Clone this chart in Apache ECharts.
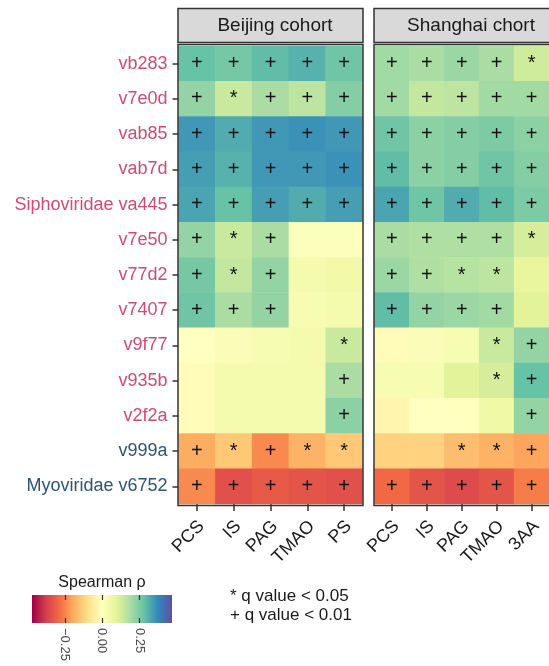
<!DOCTYPE html>
<html>
<head>
<meta charset="utf-8">
<script src="https://cdn.jsdelivr.net/npm/echarts@6/dist/echarts.min.js"></script>
<style>
  html, body { margin: 0; padding: 0; background: #ffffff; }
  #chart { width: 549px; height: 666px; }
</style>
</head>
<body>
<div id="chart"></div>
<script>
// Viral contigs (rows) and metabolites (columns) for each cohort
const viruses = ['vb283', 'v7e0d', 'vab85', 'vab7d', 'Siphoviridae va445', 'v7e50', 'v77d2',
  'v7407', 'v9f77', 'v935b', 'v2f2a', 'v999a', 'Myoviridae v6752'];
// 'up' = positively associated group, 'down' = negatively associated group
const virusGroup = ['up', 'up', 'up', 'up', 'up', 'up', 'up', 'up', 'up', 'up', 'up', 'down', 'down'];
const metabolitesBeijing = ['PCS', 'IS', 'PAG', 'TMAO', 'PS'];
const metabolitesShanghai = ['PCS', 'IS', 'PAG', 'TMAO', '3AA'];

// Spearman rho, one row per virus
const rhoBeijing = [
  [0.28, 0.26, 0.29, 0.31, 0.27],
  [0.22, 0.14, 0.19, 0.16, 0.24],
  [0.35, 0.32, 0.35, 0.36, 0.35],
  [0.34, 0.31, 0.35, 0.35, 0.36],
  [0.33, 0.28, 0.34, 0.32, 0.34],
  [0.22, 0.14, 0.19, 0.01, 0.01],
  [0.26, 0.15, 0.22, 0.04, 0.05],
  [0.27, 0.19, 0.22, 0.03, 0.04],
  [0.00, 0.02, 0.03, 0.04, 0.14],
  [-0.01, 0.04, 0.04, 0.04, 0.19],
  [-0.01, 0.04, 0.04, 0.04, 0.23],
  [-0.19, -0.14, -0.24, -0.18, -0.14],
  [-0.24, -0.34, -0.32, -0.33, -0.34]
];
const rhoShanghai = [
  [0.20, 0.19, 0.21, 0.19, 0.13],
  [0.20, 0.15, 0.16, 0.20, 0.20],
  [0.27, 0.23, 0.24, 0.25, 0.23],
  [0.29, 0.23, 0.24, 0.27, 0.24],
  [0.33, 0.27, 0.32, 0.29, 0.25],
  [0.19, 0.18, 0.18, 0.18, 0.12],
  [0.21, 0.18, 0.17, 0.16, 0.08],
  [0.29, 0.22, 0.21, 0.20, 0.10],
  [-0.01, 0.02, 0.03, 0.14, 0.22],
  [0.03, 0.03, 0.10, 0.12, 0.28],
  [-0.03, 0.00, 0.00, 0.06, 0.22],
  [-0.12, -0.12, -0.16, -0.18, -0.20],
  [-0.29, -0.33, -0.35, -0.33, -0.26]
];

// Significance marks: '*' q < 0.05, '+' q < 0.01
const sigBeijing = [
  ['+', '+', '+', '+', '+'],
  ['+', '*', '+', '+', '+'],
  ['+', '+', '+', '+', '+'],
  ['+', '+', '+', '+', '+'],
  ['+', '+', '+', '+', '+'],
  ['+', '*', '+', '', ''],
  ['+', '*', '+', '', ''],
  ['+', '+', '+', '', ''],
  ['', '', '', '', '*'],
  ['', '', '', '', '+'],
  ['', '', '', '', '+'],
  ['+', '*', '+', '*', '*'],
  ['+', '+', '+', '+', '+']
];
const sigShanghai = [
  ['+', '+', '+', '+', '*'],
  ['+', '+', '+', '+', '+'],
  ['+', '+', '+', '+', '+'],
  ['+', '+', '+', '+', '+'],
  ['+', '+', '+', '+', '+'],
  ['+', '+', '+', '+', '*'],
  ['+', '+', '*', '*', ''],
  ['+', '+', '+', '+', ''],
  ['', '', '', '*', '+'],
  ['', '', '', '*', '+'],
  ['', '', '', '', '+'],
  ['', '', '*', '*', '+'],
  ['+', '+', '+', '+', '+']
];

// Colour scale
const rhoLimits = [-0.47, 0.47];
const colorbarTicks = [-0.25, 0, 0.25];
const spectral = ['#9E0142', '#D53E4F', '#F46D43', '#FDAE61', '#FEE08B', '#FFFFBF',
  '#E6F598', '#ABDDA4', '#66C2A5', '#3288BD', '#5E4FA2'];

const FONT = '"Liberation Sans", Arial, Helvetica, sans-serif';
const groupColor = { up: '#d14b70', down: '#2c5479' };

// Panel layout
const PANEL_TOP = 46, PANEL_H = 458, PANEL_W = 184;
const BJ_LEFT = 178.5, SH_LEFT = 374.5;
const STRIP_TOP = 8.5, STRIP_H = 34;

function toCells(rho, sig) {
  const out = [];
  rho.forEach((row, yi) => row.forEach((v, xi) => out.push([xi, yi, v, sig[yi][xi]])));
  return out;
}

function fmtTick(v) {
  const s = Math.abs(v).toFixed(2);
  return v < 0 ? '\u2212' + s : s;
}

const cellLabel = {
  show: true,
  formatter: p => p.data[3],
  color: '#111',
  fontSize: 20,
  fontFamily: FONT
};

function catX(cats, gridIndex) {
  return {
    type: 'category', gridIndex, data: cats, position: 'bottom',
    axisLine: { show: false },
    axisTick: { show: true, length: 7, lineStyle: { color: '#333', width: 1.5 }, alignWithLabel: true },
    // top-right corner of each label sits just under its tick
    axisLabel: { rotate: 45, fontSize: 18, color: '#1a1a1a', fontFamily: FONT, margin: 15,
      align: 'right', verticalAlign: 'top', lineHeight: 13 },
    splitLine: { show: false }
  };
}

function catY(gridIndex, showLabels) {
  return {
    type: 'category', gridIndex, data: viruses, inverse: true,
    axisLine: { show: false },
    axisTick: { show: showLabels, length: 6, lineStyle: { color: '#333', width: 1.5 }, alignWithLabel: true },
    axisLabel: {
      show: showLabels, fontSize: 18, fontFamily: FONT, margin: 11,
      color: (value, index) => groupColor[virusGroup[index]]
    },
    splitLine: { show: false }
  };
}

function colorbarX(gridIndex, position, withLabels) {
  return {
    type: 'value', gridIndex, position, min: rhoLimits[0], max: rhoLimits[1],
    z: 10,
    axisLine: { show: false },
    splitLine: { show: false },
    axisTick: { show: true, inside: true, length: 5, customValues: colorbarTicks,
      lineStyle: { color: '#333', width: 1.2 } },
    axisLabel: { show: withLabels, customValues: colorbarTicks, rotate: -90, fontSize: 13,
      color: '#4d4d4d', fontFamily: FONT, margin: 5, formatter: fmtTick }
  };
}

const chart = echarts.init(document.getElementById('chart'), null, { renderer: 'canvas' });

const stripStyle = { fill: '#d9d9d9', stroke: '#333', lineWidth: 1.5 };
const borderStyle = { fill: 'none', stroke: '#333', lineWidth: 1.5 };

chart.setOption({
  animation: false,
  backgroundColor: '#ffffff',
  grid: [
    { left: BJ_LEFT, top: PANEL_TOP, width: PANEL_W, height: PANEL_H },
    { left: SH_LEFT, top: PANEL_TOP, width: PANEL_W, height: PANEL_H },
    { left: 32, top: 595, width: 140, height: 28 }
  ],
  xAxis: [
    catX(metabolitesBeijing, 0),
    catX(metabolitesShanghai, 1),
    colorbarX(2, 'bottom', true),
    colorbarX(2, 'top', false)
  ],
  yAxis: [
    catY(0, true),
    catY(1, false),
    { type: 'value', gridIndex: 2, min: 0, max: 1, show: false }
  ],
  visualMap: {
    type: 'continuous', show: false, dimension: 2, seriesIndex: [0, 1],
    min: rhoLimits[0], max: rhoLimits[1],
    inRange: { color: spectral }
  },
  series: [
    {
      name: 'Beijing cohort', type: 'heatmap', xAxisIndex: 0, yAxisIndex: 0,
      data: toCells(rhoBeijing, sigBeijing), label: cellLabel
    },
    {
      name: 'Shanghai chort', type: 'heatmap', xAxisIndex: 1, yAxisIndex: 1,
      data: toCells(rhoShanghai, sigShanghai), label: cellLabel
    },
    {
      // colour bar of the rho scale
      type: 'custom', xAxisIndex: 2, yAxisIndex: 2, silent: true, z: 1,
      data: [[rhoLimits[0], 0]],
      renderItem: (params, api) => {
        const p0 = api.coord([rhoLimits[0], 0]);
        const p1 = api.coord([rhoLimits[1], 1]);
        const stops = spectral.map((c, i) => ({ offset: i / (spectral.length - 1), color: c }));
        return {
          type: 'rect',
          shape: { x: p0[0], y: p1[1], width: p1[0] - p0[0], height: p0[1] - p1[1] },
          style: { fill: new echarts.graphic.LinearGradient(0, 0, 1, 0, stops) }
        };
      }
    }
  ],
  graphic: [
    // facet strips
    { type: 'rect', shape: { x: BJ_LEFT - 0.5, y: STRIP_TOP, width: PANEL_W + 1, height: STRIP_H }, style: stripStyle, z: 50 },
    { type: 'rect', shape: { x: SH_LEFT - 0.5, y: STRIP_TOP, width: PANEL_W + 1, height: STRIP_H }, style: stripStyle, z: 50 },
    { type: 'text', x: 275, y: 25.5, z: 51,
      style: { text: 'Beijing cohort', fontSize: 19, fontFamily: FONT, fill: '#1a1a1a', align: 'center', verticalAlign: 'middle' } },
    { type: 'text', x: 471, y: 25.5, z: 51,
      style: { text: 'Shanghai chort', fontSize: 19, fontFamily: FONT, fill: '#1a1a1a', align: 'center', verticalAlign: 'middle' } },
    // panel borders
    { type: 'rect', shape: { x: BJ_LEFT - 0.5, y: PANEL_TOP - 1.5, width: PANEL_W + 1, height: PANEL_H + 3 }, style: borderStyle, z: 50 },
    { type: 'rect', shape: { x: SH_LEFT - 0.5, y: PANEL_TOP - 1.5, width: PANEL_W + 1, height: PANEL_H + 3 }, style: borderStyle, z: 50 },
    // colour bar title
    { type: 'text', x: 102, y: 583, z: 51,
      style: { text: 'Spearman \u03C1', fontSize: 16, fontFamily: FONT, fill: '#1a1a1a', align: 'center', verticalAlign: 'middle' } },
    // significance key
    { type: 'text', x: 230, y: 596, z: 51,
      style: { text: '* q value < 0.05', fontSize: 17, fontFamily: FONT, fill: '#1a1a1a', align: 'left', verticalAlign: 'middle' } },
    { type: 'text', x: 230, y: 615, z: 51,
      style: { text: '+ q value < 0.01', fontSize: 17, fontFamily: FONT, fill: '#1a1a1a', align: 'left', verticalAlign: 'middle' } }
  ]
});
</script>
</body>
</html>
